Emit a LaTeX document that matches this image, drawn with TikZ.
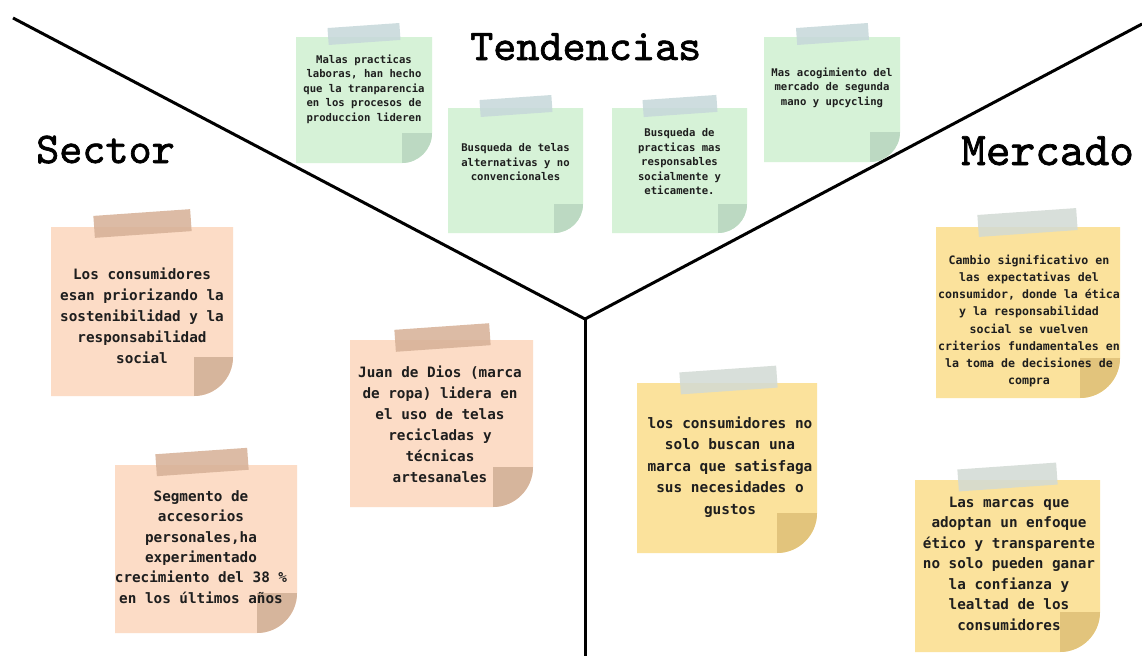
\documentclass[tikz,border=0pt]{standalone}
\usepackage{fontspec}
\newfontfamily\bodyfont{DejaVu Sans Mono}
\newfontfamily\headfont{lmmono10-regular.otf}[FakeBold=1.5]
\definecolor{peachnote}{HTML}{FCDCC6}
\definecolor{peachcurl}{HTML}{D6B59C}
\definecolor{peachtape}{HTML}{D6B096}
\definecolor{greennote}{HTML}{D6F2D7}
\definecolor{greencurl}{HTML}{BCD9C2}
\definecolor{greentape}{HTML}{C6D8DA}
\definecolor{yellownote}{HTML}{FBE29C}
\definecolor{yellowcurl}{HTML}{E2C47C}
\definecolor{yellowtape}{HTML}{D2DAD4}
\definecolor{inkc}{HTML}{1E1E1E}
\newcommand{\stickynote}[7]{%
  \fill[#6] (#1,#2) -- (#3,#2) -- (#3,#4-#5) .. controls (#3,#4-0.45*#5) and (#3-0.45*#5,#4) .. (#3-#5,#4) -- (#1,#4) -- cycle;
  \fill[#7] (#3-#5,#4-#5) -- (#3,#4-#5) .. controls (#3,#4-0.45*#5) and (#3-0.45*#5,#4) .. (#3-#5,#4) -- cycle;}
\tikzset{
  divider/.style={line width=3pt, black},
  tapebox/.style={rectangle, inner sep=0pt, rotate=4, fill opacity=0.85},
  bigtext/.style={align=center, inner sep=0pt, text=inkc, font=\bodyfont\bfseries\fontsize{14.3}{21}\selectfont},
  smalltext/.style={align=center, inner sep=0pt, text=inkc, font=\bodyfont\bfseries\fontsize{10.6}{14.5}\selectfont},
  midtext/.style={align=center, inner sep=0pt, text=inkc, font=\bodyfont\bfseries\fontsize{11.6}{17.1}\selectfont},
  heading/.style={anchor=base west, inner sep=0pt, text=black, font=\headfont\fontsize{44}{50}\selectfont}
}
\begin{document}
\begin{tikzpicture}[x=1pt,y=-1pt]
\useasboundingbox[fill=white] (0,0) rectangle (1142,656);
% dividers
\coordinate (tl) at (13,18);
\coordinate (tr) at (1142,24);
\coordinate (mid) at (585,319);
\coordinate (bot) at (585,656);
\draw[divider] (tl) -- (mid) -- (tr);
\draw[divider] (mid) -- (bot);
% headings
\node[heading] (sector) at (36,163) {Sector};
\node[heading] (tendencias) at (470,60) {Tendencias};
\node[heading, font=\headfont\fontsize{47}{52}\selectfont] (mercado) at (961,165) {Mercado};
% Sector notes
\stickynote{51}{227}{233}{396}{39}{peachnote}{peachcurl}
\node[tapebox, fill=peachtape, minimum width=97pt, minimum height=22pt] (tapeA) at (142.5,223.5) {};
\node[bigtext] (noteA) at (142,315.5) {Los consumidores\\esan priorizando la\\sostenibilidad y la\\responsabilidad\\social};
\stickynote{115}{465}{297}{633}{40}{peachnote}{peachcurl}
\node[tapebox, fill=peachtape, minimum width=92pt, minimum height=22pt] (tapeB) at (202,462) {};
\node[bigtext, font=\bodyfont\bfseries\fontsize{14.3}{20.4}\selectfont] (noteB) at (201,547) {Segmento de\\accesorios\\personales,ha\\experimentado\\crecimiento del 38 \%\\en los últimos años};
\stickynote{350}{340}{533}{507}{40}{peachnote}{peachcurl}
\node[tapebox, fill=peachtape, minimum width=95pt, minimum height=22pt] (tapeC) at (442.5,337.5) {};
\node[bigtext] (noteC) at (440,424.5) {Juan de Dios (marca\\de ropa) lidera en\\el uso de telas\\recicladas y\\técnicas\\artesanales};
% Tendencias notes
\stickynote{296}{37}{432}{163}{30}{greennote}{greencurl}
\node[tapebox, fill=greentape, minimum width=72pt, minimum height=17pt] (tapeG1) at (364,34) {};
\node[smalltext, font=\bodyfont\bfseries\fontsize{10.6}{14.5}\selectfont] (noteG1) at (364,89) {Malas practicas\\laboras, han hecho\\que la tranparencia\\en los procesos de\\produccion lideren};
\stickynote{448}{108}{583}{233}{29}{greennote}{greencurl}
\node[tapebox, fill=greentape, minimum width=72pt, minimum height=17pt] (tapeG2) at (516,106) {};
\node[smalltext] (noteG2) at (515.5,162.5) {Busqueda de telas\\alternativas y no\\convencionales};
\stickynote{612}{108}{747}{233}{29}{greennote}{greencurl}
\node[tapebox, fill=greentape, minimum width=74pt, minimum height=17pt] (tapeG3) at (680,106) {};
\node[smalltext] (noteG3) at (679.5,162) {Busqueda de\\practicas mas\\responsables\\socialmente y\\eticamente.};
\stickynote{764}{37}{900}{162}{30}{greennote}{greencurl}
\node[tapebox, fill=greentape, minimum width=72pt, minimum height=17pt] (tapeG4) at (832.5,34) {};
\node[smalltext] (noteG4) at (832,87.5) {Mas acogimiento del\\mercado de segunda\\mano y upcycling};
% Mercado notes
\stickynote{936}{227}{1120}{398}{40}{yellownote}{yellowcurl}
\node[tapebox, fill=yellowtape, minimum width=99pt, minimum height=22pt] (tapeY1) at (1027.5,222.5) {};
\node[midtext] (noteY1) at (1029,321) {Cambio significativo en\\las expectativas del\\consumidor, donde la ética\\y la responsabilidad\\social se vuelven\\criterios fundamentales en\\la toma de decisiones de\\compra};
\stickynote{637}{383}{817}{553}{40}{yellownote}{yellowcurl}
\node[tapebox, fill=yellowtape, minimum width=97pt, minimum height=22pt] (tapeY2) at (728.5,380) {};
\node[bigtext, font=\bodyfont\bfseries\fontsize{14.4}{21.5}\selectfont] (noteY2) at (730,467) {los consumidores no\\solo buscan una\\marca que satisfaga\\sus necesidades o\\gustos};
\stickynote{915}{480}{1100}{652}{40}{yellownote}{yellowcurl}
\node[tapebox, fill=yellowtape, minimum width=99pt, minimum height=22pt] (tapeY3) at (1007.5,477) {};
\node[bigtext, font=\bodyfont\bfseries\fontsize{14.3}{20.5}\selectfont] (noteY3) at (1009,563.5) {Las marcas que\\adoptan un enfoque\\ético y transparente\\no solo pueden ganar\\la confianza y\\lealtad de los\\consumidores};
\end{tikzpicture}
\end{document}
